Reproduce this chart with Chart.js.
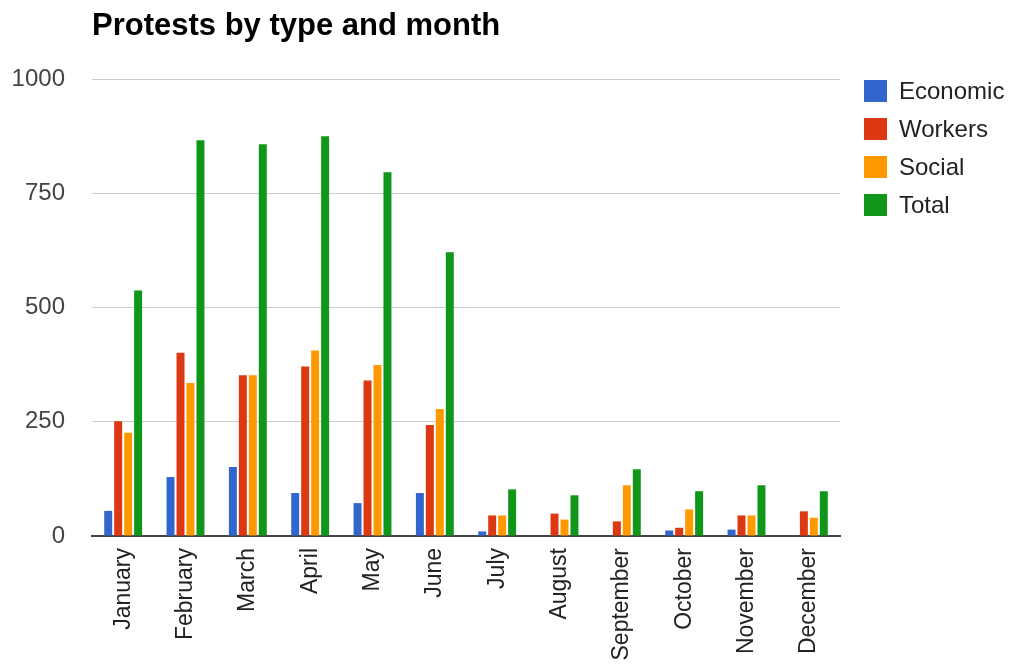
<!DOCTYPE html>
<html>
<head>
<meta charset="utf-8">
<script src="https://cdn.jsdelivr.net/npm/chart.js@4.4.1/dist/chart.umd.min.js"></script>
<style>
  html, body { margin: 0; padding: 0; background: #fff; }
  #wrap { width: 1011px; height: 668px; }
</style>
</head>
<body>
<div id="wrap"><canvas id="chart" width="1011" height="668"></canvas></div>
<script>
const months = ['January', 'February', 'March', 'April', 'May', 'June',
  'July', 'August', 'September', 'October', 'November', 'December'];
const economic = [55, 129, 151, 94, 72, 94, 10, 0, 0, 12, 14, 0];
const workers = [251, 401, 352, 371, 340, 243, 45, 49, 32, 18, 45, 54];
const social = [226, 335, 352, 406, 374, 278, 45, 36, 111, 58, 45, 40];
const total = [537, 866, 857, 875, 796, 621, 102, 89, 146, 98, 111, 98];
const yTicks = [0, 250, 500, 750, 1000];

const seriesNames = ['Economic', 'Workers', 'Social', 'Total'];
const seriesColors = ['#3366cc', '#dc3912', '#ff9900', '#109618'];
const seriesData = [economic, workers, social, total];

const font = 'Arial, "Liberation Sans", sans-serif';

// title and legend are drawn by hand so they sit where the original has them
const decorations = {
  id: 'decorations',
  afterDraw(chart) {
    const ctx = chart.ctx;
    ctx.save();
    ctx.fillStyle = '#000';
    ctx.font = 'bold 31px ' + font;
    ctx.textBaseline = 'alphabetic';
    ctx.textAlign = 'left';
    ctx.fillText('Protests by type and month', chart.chartArea.left, 35);

    ctx.font = '24px ' + font;
    ctx.textBaseline = 'middle';
    chart.data.datasets.forEach((ds, i) => {
      const y = 91 + i * 38;
      ctx.fillStyle = ds.backgroundColor;
      ctx.fillRect(864, y - 11, 23, 22);
      ctx.fillStyle = '#222';
      ctx.fillText(ds.label, 899, y + 1);
    });
    ctx.restore();
  }
};

new Chart(document.getElementById('chart').getContext('2d'), {
  type: 'bar',
  data: {
    labels: months,
    datasets: seriesNames.map((name, i) => ({
      label: name,
      data: seriesData[i],
      backgroundColor: seriesColors[i],
      categoryPercentage: 0.64,
      barPercentage: 0.8
    }))
  },
  options: {
    responsive: false,
    animation: false,
    layout: { padding: { top: 79, right: 171, left: 0, bottom: 0 } },
    plugins: {
      legend: { display: false },
      title: { display: false },
      tooltip: { enabled: false }
    },
    scales: {
      x: {
        grid: { display: false, drawTicks: false },
        border: { display: true, color: '#444', width: 2 },
        ticks: {
          color: '#222',
          font: { family: font, size: 23 },
          minRotation: 90,
          maxRotation: 90,
          padding: 12
        },
        afterFit(scale) { scale.height = 132; }
      },
      y: {
        min: 0,
        max: 1000,
        afterBuildTicks(scale) { scale.ticks = yTicks.map(v => ({ value: v })); },
        grid: { color: '#cccccc', lineWidth: 1, drawTicks: false },
        border: { display: false },
        ticks: {
          color: '#444',
          font: { family: font, size: 24 },
          padding: 27,
          callback: v => String(v)
        },
        afterFit(scale) { scale.width = 92; }
      }
    }
  },
  plugins: [decorations]
});
</script>
</body>
</html>
